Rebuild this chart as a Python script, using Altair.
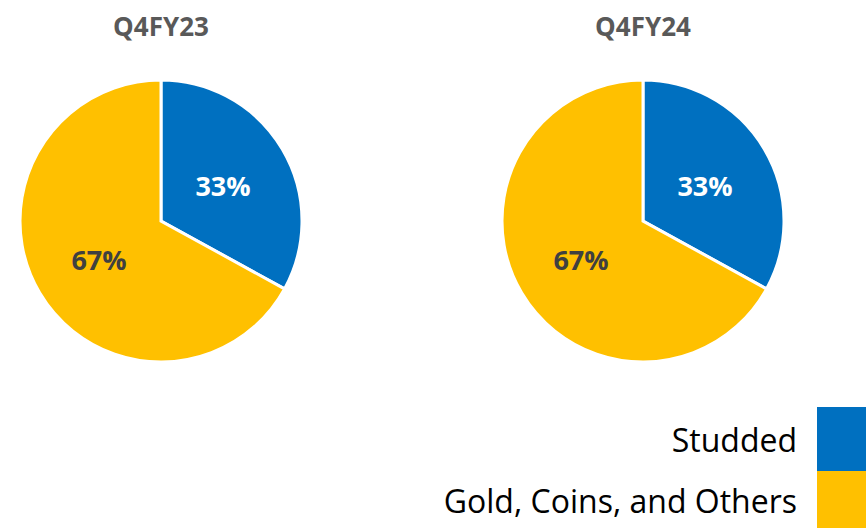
import altair as alt
import pandas as pd

periods = ["Q4FY23", "Q4FY24"]
categories = ["Studded", "Gold, Coins, and Others"]
shares_q4fy23 = [33, 67]
shares_q4fy24 = [33, 67]
colors = ["#0070C0", "#FFC000"]
label_colors = ["#FFFFFF", "#404040"]

share_map = {"Q4FY23": shares_q4fy23, "Q4FY24": shares_q4fy24}
rows = []
for p in periods:
    for i, c in enumerate(categories):
        rows.append({"period": p, "category": c, "share": share_map[p][i],
                     "order": i, "label": f"{share_map[p][i]}%",
                     "tcolor": label_colors[i]})
df = pd.DataFrame(rows)

color_scale = alt.Scale(domain=categories, range=colors)

centers = {"Q4FY23": (161, 221), "Q4FY24": (643, 221)}
R = 141

layers = []
for p in periods:
    cx, cy = centers[p]
    base = alt.Chart(df).transform_filter(alt.datum.period == p)
    arc = base.mark_arc(outerRadius=R, stroke="white", strokeWidth=3).encode(
        theta=alt.Theta("share:Q", stack=True),
        order=alt.Order("order:Q"),
        color=alt.Color("category:N", scale=color_scale, legend=None),
        x=alt.value(cx), y=alt.value(cy),
    )
    txt = base.mark_text(radius=72, dy=4, font="Open Sans", fontSize=27, fontWeight="bold").encode(
        theta=alt.Theta("share:Q", stack=True),
        order=alt.Order("order:Q"),
        text="label:N",
        color=alt.Color("tcolor:N", scale=None, legend=None),
        x=alt.value(cx), y=alt.value(cy),
    )
    title = alt.Chart(pd.DataFrame({"t": [p]})).mark_text(
        font="Open Sans", fontSize=26, fontWeight="bold", color="#595959"
    ).encode(text="t:N", x=alt.value(cx), y=alt.value(28))
    layers += [arc, txt, title]

# Legend (manual)
leg_y = [(407, 471), (471, 528)]
for i, c in enumerate(categories):
    ldf = pd.DataFrame({"category": [c]})
    y0, y1 = leg_y[i]
    sw = alt.Chart(ldf).mark_rect().encode(
        x=alt.value(817), x2=alt.value(866), y=alt.value(y0), y2=alt.value(y1),
        color=alt.Color("category:N", scale=color_scale, legend=None),
    )
    lt = alt.Chart(ldf).mark_text(
        font="Open Sans", fontSize=32, align="right", baseline="middle", color="#000000"
    ).encode(text="category:N", x=alt.value(797), y=alt.value((y0 + y1) / 2 + 3))
    layers += [sw, lt]

chart = alt.layer(*layers).properties(
    width=866, height=528, autosize=alt.AutoSizeParams(type="none"), padding=0
).configure_view(stroke=None)

chart.save("out.html", embed_options={"renderer": "svg", "actions": False})
